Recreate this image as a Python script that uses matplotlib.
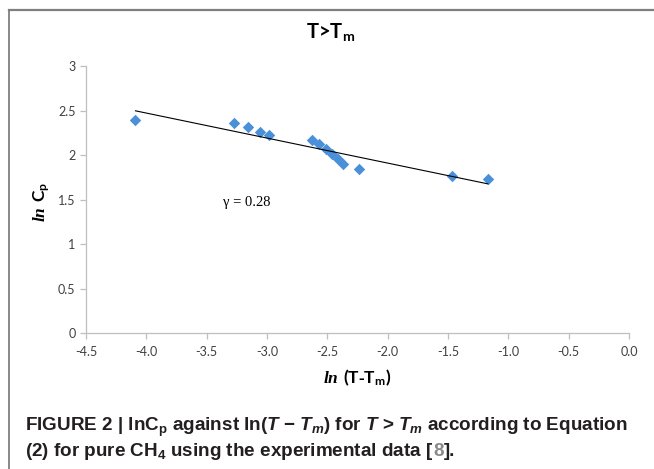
import numpy as np
import matplotlib
matplotlib.use('Agg')
import matplotlib.pyplot as plt
from matplotlib.lines import Line2D

# ln(T - Tm) and ln Cp for pure CH4, T > Tm
ln_dT = [-4.09, -3.27, -3.16, -3.06, -2.98, -2.63, -2.57, -2.51, -2.46, -2.41, -2.37, -2.24, -1.47, -1.17]
ln_Cp = [2.39, 2.36, 2.31, 2.26, 2.22, 2.17, 2.12, 2.07, 2.01, 1.96, 1.90, 1.84, 1.76, 1.73]

x_ticks = [-4.5, -4.0, -3.5, -3.0, -2.5, -2.0, -1.5, -1.0, -0.5, 0.0]
y_ticks = [0, 0.5, 1, 1.5, 2, 2.5, 3]
y_tick_labels = ['0', '0.5', '1', '1.5', '2', '2.5', '3']

gamma_label = 'γ = 0.28'
caption_1 = (r'FIGURE 2 | lnC$_\mathrm{p}$ against ln($T$ − $T_m$) for $T$ > $T_m$'
             ' according to Equation')
caption_2 = ['(2) for pure CH$_\\mathrm{4}$ using the experimental data [', '8', '].']

plt.rcParams['mathtext.fontset'] = 'custom'
plt.rcParams['mathtext.bf'] = 'Lato:bold'
plt.rcParams['mathtext.bfit'] = 'Liberation Serif:italic:bold'
plt.rcParams['mathtext.rm'] = 'Liberation Sans:bold'
plt.rcParams['mathtext.it'] = 'Liberation Sans:italic:bold'

W, H = 654, 469
fig = plt.figure(figsize=(W / 100, H / 100), dpi=100)

# frame round the chart
fig.add_artist(Line2D([9 / W, 9 / W], [0, 1 - 10 / H], transform=fig.transFigure,
                      color='#7f7f7f', lw=1.3))
fig.add_artist(Line2D([9 / W, 1], [1 - 10.5 / H, 1 - 10.5 / H], transform=fig.transFigure,
                      color='#7f7f7f', lw=1.6))

ax = fig.add_axes([86 / W, 1 - 333.3 / H, 543 / W, 267.3 / H])
ax.set_xlim(-4.5, 0)
ax.set_ylim(0, 3)

ax.scatter(ln_dT, ln_Cp, marker='D', s=34, color='#4a90d9', linewidths=0, zorder=3)

# linear trend line over the data range
k, b = np.polyfit(ln_dT, ln_Cp, 1)
xs = np.array([min(ln_dT), max(ln_dT)])
ax.plot(xs, k * xs + b, color='black', lw=0.8, zorder=4)

ax.text(-3.166, 1.43, gamma_label, family='Liberation Serif', fontsize=10.5,
        ha='center', va='baseline')

for s in ['top', 'right']:
    ax.spines[s].set_visible(False)
for s in ['left', 'bottom']:
    ax.spines[s].set_color('#bfbfbf')
    ax.spines[s].set_linewidth(0.9)
ax.set_xticks(x_ticks)
ax.set_xticklabels([f'{v:.1f}' for v in x_ticks])
ax.set_yticks(y_ticks)
ax.set_yticklabels(y_tick_labels)
ax.tick_params(length=4, width=0.9, color='#bfbfbf', labelsize=9, labelcolor='#404040')
ax.tick_params(axis='x', pad=5)
for lab in ax.get_xticklabels() + ax.get_yticklabels():
    lab.set_family('Lato')

fig.text(331 / W, 1 - 39 / H, r'T>T$_\mathbf{m}$', family='Lato', weight='bold',
         ha='center', va='baseline', fontsize=14.5)
fig.text(357 / W, 1 - 378 / H, r'$\mathbfit{ln}$ $\mathbf{(T\text{-}T_m)}$',
         ha='center', va='center', fontsize=12.5)
fig.text(42 / W, 1 - 202 / H, r'$\mathbfit{ln}$ $\mathbf{C_p}$',
         ha='center', va='center', fontsize=12.5, rotation=90)

cap_kw = dict(family='Liberation Sans', weight='bold', fontsize=13.6, va='baseline',
              color='#231f20')
fig.text(25 / W, 1 - 431 / H, caption_1, **cap_kw)

# second caption line; the reference number is set in grey
fig.canvas.draw()
renderer = fig.canvas.get_renderer()
x = 25 / W
for part, col in zip(caption_2, ['#231f20', '#8a8a8a', '#231f20']):
    t = fig.text(x, 1 - 456 / H, part, **{**cap_kw, 'color': col})
    x = t.get_window_extent(renderer).x1 / W

fig.savefig('out.png', dpi=100)
